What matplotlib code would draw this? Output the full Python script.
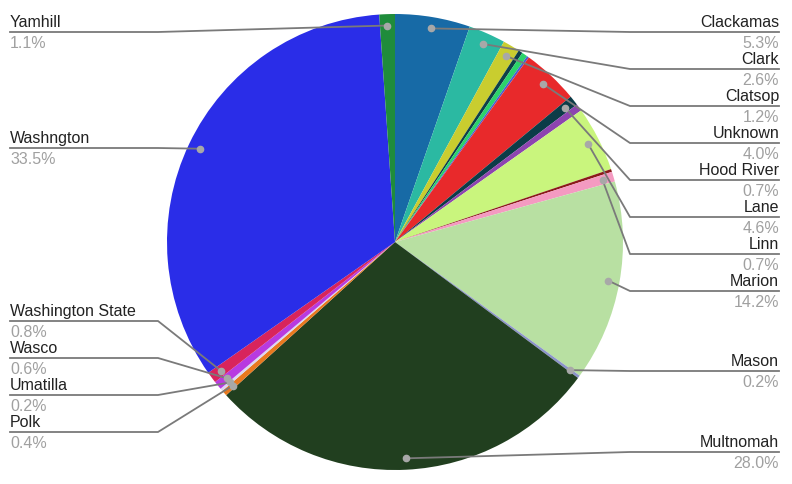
import numpy as np
import matplotlib.pyplot as plt

plt.rcParams['font.family'] = ['Liberation Sans', 'DejaVu Sans']

# slices clockwise from 12 o'clock; empty name = unlabeled sliver
names = ['Clackamas', 'Clark', 'Clatsop', '', '', '', 'Unknown', 'Hood River', '', 'Lane', '',
         'Linn', 'Marion', 'Mason', 'Multnomah', 'Polk', 'Umatilla', 'Wasco',
         'Washington State', 'Washngton', 'Yamhill']
shares = [5.3, 2.6, 1.2, 0.3, 0.4, 0.15, 4.0, 0.7, 0.5, 4.6, 0.2,
          0.7, 14.2, 0.2, 28.0, 0.4, 0.2, 0.6,
          0.8, 33.5, 1.1]
colors = ['#176aa6', '#2bb9a2', '#c9cd2f', '#0e3f48', '#2bd36a', '#4a5fd0', '#e8292b', '#0c3c48',
          '#8d44b0', '#c9f57d', '#8b1a1a', '#f49ac1', '#b8e0a2', '#8c94c9', '#213f1f', '#e8791f',
          '#dcd8f2', '#b83ae0', '#d8245c', '#2a2de8', '#1f8c3b']

# label line heights (pixels from top)
label_y = {'Clackamas': 33, 'Clark': 70, 'Clatsop': 107, 'Unknown': 144, 'Hood River': 181,
           'Lane': 218, 'Linn': 255, 'Marion': 292, 'Mason': 372, 'Multnomah': 453,
           'Yamhill': 33, 'Washngton': 149, 'Washington State': 322, 'Wasco': 359,
           'Umatilla': 396, 'Polk': 433}

W, H = 792, 485
fig = plt.figure(figsize=(W / 100, H / 100), dpi=100)
ax = fig.add_axes([0, 0, 1, 1])

cx, cy, r = 395, H - 243, 228
wedges, _ = ax.pie(shares, colors=colors, startangle=90, counterclock=False,
                   center=(cx, cy), radius=r, wedgeprops=dict(linewidth=0))
ax.set_xlim(0, W)
ax.set_ylim(0, H)
ax.set_aspect('equal')
ax.axis('off')

for w, name, val in zip(wedges, names, shares):
    if not name:
        continue
    th = np.deg2rad((w.theta1 + w.theta2) / 2)
    px = cx + 0.95 * r * np.cos(th)
    py = cy + 0.95 * r * np.sin(th)
    ly = H - label_y[name]
    if px >= cx:
        xs, tx, ha = [px, 630, 779], 779, 'right'
    else:
        xs, tx, ha = [px, 158, 10], 10, 'left'
    ax.plot(xs, [py, ly, ly], color='#7a7a7a', lw=1.3, zorder=3)
    ax.plot(px, py, 'o', ms=4.5, color='#a8a8a8', zorder=4)
    ax.text(tx, ly + 3, name, ha=ha, va='bottom', fontsize=11.5, color='#222222')
    ax.text(tx, ly - 3, f'{val:.1f}%', ha=ha, va='top', fontsize=11.5, color='#a0a0a0')

fig.savefig('out.png', dpi=100)
